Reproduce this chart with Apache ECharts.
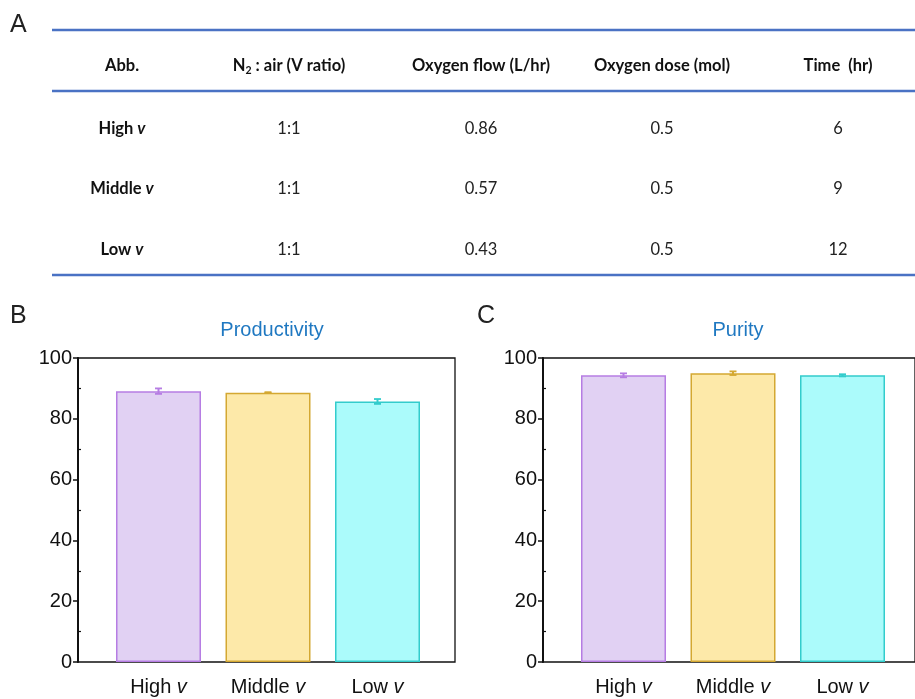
<!DOCTYPE html>
<html><head><meta charset="utf-8">
<script src="https://cdn.jsdelivr.net/npm/echarts@6/dist/echarts.min.js"></script>
<style>html,body{margin:0;padding:0;background:#fff}#c{width:915px;height:699px}</style>
</head><body><div id="c"></div>
<script>
// ---- data ----
const categories = ['High', 'Middle', 'Low'];
const productivity = [89.1, 88.6, 85.7];
const productivityErr = [0.9, 0.15, 0.8];
const purity = [94.3, 95.0, 94.3];
const purityErr = [0.65, 0.6, 0.35];
const yTicks = [0, 20, 40, 60, 80, 100];
const tableHeaders = ['Abb.', 'N2 : air (V ratio)', 'Oxygen flow (L/hr)', 'Oxygen dose (mol)', 'Time  (hr)'];
const tableRowNames = ['High', 'Middle', 'Low'];
const tableRatio = ['1:1', '1:1', '1:1'];
const tableFlow = ['0.86', '0.57', '0.43'];
const tableDose = ['0.5', '0.5', '0.5'];
const tableTime = ['6', '9', '12'];

const fills = ['#e1d1f3', '#fde9a9', '#abfbfb'];
const borders = ['#b67de3', '#d4a832', '#33cccc'];

const chart = echarts.init(document.getElementById('c'));

// ---- table graphics ----
const colX = [122, 289, 481, 662, 838];
const lineColor = '#4a72c4';
const tFont = 'Lato, "Open Sans", sans-serif';
const tSize = 16.5;
const graphics = [];
[30, 91, 275].forEach(y => graphics.push({
  type: 'line', shape: {x1: 52, y1: y, x2: 915, y2: y},
  style: {stroke: lineColor, lineWidth: 2.5}, silent: true
}));
tableHeaders.forEach((hd, i) => {
  let t = hd, rich = {};
  if (i === 1) {
    t = '{b|N}{s|2}{b| : air (V ratio)}';
    rich = {b: {fontFamily: tFont, fontWeight: 'bold', fontSize: tSize, fill: '#111', lineHeight: 20},
            s: {fontFamily: tFont, fontWeight: 'bold', fontSize: 10.5, fill: '#111', verticalAlign: 'bottom', lineHeight: 13, padding: [7, 0, 0, 0]}};
  }
  graphics.push({type: 'text', x: colX[i], y: 66, silent: true,
    style: {text: t, rich: rich, fontFamily: tFont, fontWeight: 'bold', fontSize: tSize, fill: '#111', align: 'center', verticalAlign: 'middle'}});
});
const rowY = [129, 189, 250];
tableRowNames.forEach((n, r) => {
  graphics.push({type: 'text', x: colX[0], y: rowY[r], silent: true,
    style: {text: '{b|' + n + ' }{i|v}',
      rich: {b: {fontFamily: tFont, fontWeight: 'bold', fontSize: tSize, fill: '#111'},
             i: {fontFamily: tFont, fontWeight: 'bold', fontStyle: 'italic', fontSize: tSize, fill: '#111'}},
      align: 'center', verticalAlign: 'middle'}});
  [tableRatio, tableFlow, tableDose, tableTime].forEach((arr, c) => {
    graphics.push({type: 'text', x: colX[c + 1], y: rowY[r], silent: true,
      style: {text: arr[r], fontFamily: tFont, fontSize: tSize, fill: '#222', align: 'center', verticalAlign: 'middle'}});
  });
});
// panel letters
[['A', 10, 13], ['B', 10, 304], ['C', 477, 304]].forEach(p => graphics.push({
  type: 'text', x: p[1], y: p[2], silent: true,
  style: {text: p[0], fontFamily: 'Liberation Sans, Arial, sans-serif', fontSize: 25, fill: '#222'}
}));

// ---- charts ----
const axFont = 'Liberation Sans, Arial, sans-serif';
const gTop = 358, gH = 304;
function boxGrid(left) { return {left: left, top: gTop, width: 377, height: gH, show: true, borderColor: '#111', borderWidth: 1.3, backgroundColor: 'transparent'}; }
function barGrid(left) { return {left: left, top: gTop, width: 328.5, height: gH}; }

const grids = [boxGrid(78), barGrid(103.75), boxGrid(543), barGrid(568.75)];
const xAxes = [], yAxes = [];
[0, 2].forEach(g => {
  xAxes.push({gridIndex: g, type: 'value', show: false, min: 0, max: 1});
});
[1, 3].forEach(g => {
  xAxes.push({gridIndex: g, type: 'category', data: categories,
    axisLine: {show: false}, axisTick: {show: false}, splitLine: {show: false},
    axisLabel: {margin: 15, formatter: v => '{n|' + v + ' }{i|v}',
      rich: {n: {fontFamily: axFont, fontSize: 20, color: '#111'},
             i: {fontFamily: axFont, fontStyle: 'italic', fontSize: 20, color: '#111'}}}});
});
function majorY(g) {
  return {gridIndex: g, type: 'value', min: 0, max: 100, interval: 20,
    axisLine: {show: true, lineStyle: {color: '#111', width: 2}},
    axisTick: {show: true, inside: false, length: 5, lineStyle: {color: '#111', width: 1.5}},
    splitLine: {show: false},
    axisLabel: {margin: 6, fontFamily: axFont, fontSize: 20, color: '#111'}};
}
function minorY(g) {
  return {gridIndex: g, type: 'value', min: 0, max: 100, interval: 10, position: 'left',
    axisLine: {show: false},
    axisTick: {show: true, inside: true, length: 3, customValues: [10, 30, 50, 70, 90], lineStyle: {color: '#111', width: 1.2}},
    splitLine: {show: false}, axisLabel: {show: false}};
}
function hiddenY(g) { return {gridIndex: g, type: 'value', min: 0, max: 100, show: false, splitLine: {show: false}}; }
yAxes.push(majorY(0), minorY(0), hiddenY(1), majorY(2), minorY(2), hiddenY(3));

function barSeries(xi, yi, vals) {
  return {type: 'bar', xAxisIndex: xi, yAxisIndex: yi, barWidth: 85,
    data: vals.map((v, i) => ({value: v, itemStyle: {color: fills[i], borderColor: borders[i], borderWidth: 1.5}})),
    silent: true};
}
function errSeries(xi, yi, vals, errs) {
  return {type: 'custom', xAxisIndex: xi, yAxisIndex: yi, silent: true, z: 5,
    data: vals.map((v, i) => [i, v, errs[i]]),
    renderItem: (params, api) => {
      const i = api.value(0), v = api.value(1), e = api.value(2);
      const hi = api.coord([i, v + e]), lo = api.coord([i, v - e]);
      const col = borders[i], cw = 3.5;
      return {type: 'group', children: [
        {type: 'line', shape: {x1: hi[0], y1: hi[1], x2: lo[0], y2: lo[1]}, style: {stroke: col, lineWidth: 2}},
        {type: 'line', shape: {x1: hi[0] - cw, y1: hi[1], x2: hi[0] + cw, y2: hi[1]}, style: {stroke: col, lineWidth: 1.8}},
        {type: 'line', shape: {x1: lo[0] - cw, y1: lo[1], x2: lo[0] + cw, y2: lo[1]}, style: {stroke: col, lineWidth: 1.8}}
      ]};
    }};
}

chart.setOption({
  animation: false,
  backgroundColor: '#fff',
  title: [
    {text: 'Productivity', left: 267, top: 315, textAlign: 'center', textStyle: {fontFamily: axFont, fontSize: 20, fontWeight: 'normal', color: '#1f78c1'}},
    {text: 'Purity', left: 733, top: 315, textAlign: 'center', textStyle: {fontFamily: axFont, fontSize: 20, fontWeight: 'normal', color: '#1f78c1'}}
  ],
  grid: grids,
  xAxis: xAxes,
  yAxis: yAxes,
  series: [
    barSeries(2, 2, productivity), errSeries(2, 2, productivity, productivityErr),
    barSeries(3, 5, purity), errSeries(3, 5, purity, purityErr)
  ],
  graphic: graphics
});
</script></body></html>
